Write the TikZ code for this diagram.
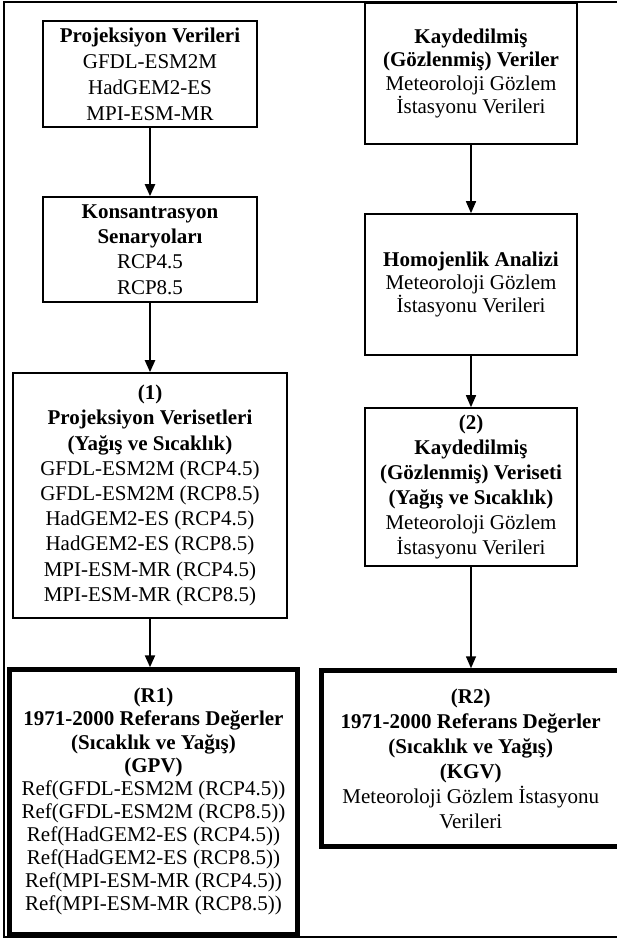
\documentclass[tikz,border=0pt]{standalone}
\usepackage{fontspec}
\setmainfont{Liberation Serif}
\usetikzlibrary{arrows.meta}
\begin{document}
\begin{tikzpicture}[x=1pt,y=-1pt,
  box/.style={draw=black, line width=1.6pt, align=center, inner sep=0pt, fill=white},
  thickbox/.style={box, line width=4.5pt},
  fs/.style={font=\fontsize{21}{#1}\selectfont},
  arrL/.style={-{Triangle[length=12pt,width=10pt]}, line width=2.2pt},
  arrR/.style={-{Triangle[length=12pt,width=10pt]}, line width=1.5pt},
  frame/.style={line width=2pt}]
\useasboundingbox (0,0) rectangle (617,939);
\clip (0,0) rectangle (617,939);
\fill[white] (0,0) rectangle (617,939);
\draw[frame] (640,2) -- (4,2) -- (4,937) -- (640,937);

% left column
\node[box, fs=26, minimum width=214pt, minimum height=106pt] (A) at (150,74)
  {\textbf{Projeksiyon Verileri}\\GFDL-ESM2M\\HadGEM2-ES\\MPI-ESM-MR};
\node[box, fs=25.3, minimum width=214pt, minimum height=105pt] (B) at (150,249.5)
  {\textbf{Konsantrasyon}\\\textbf{Senaryoları}\\RCP4.5\\RCP8.5};
\node[box, fs=25.2, minimum width=274pt, minimum height=245pt] (C) at (150,495.5)
  {\textbf{(1)}\\\textbf{Projeksiyon Verisetleri}\\\textbf{(Yağış ve Sıcaklık)}\\
   GFDL-ESM2M (RCP4.5)\\GFDL-ESM2M (RCP8.5)\\HadGEM2-ES (RCP4.5)\\
   HadGEM2-ES (RCP8.5)\\MPI-ESM-MR (RCP4.5)\\MPI-ESM-MR (RCP8.5)};
\node[thickbox, fs=23.1, minimum width=288pt, minimum height=264.5pt] (D) at (153.5,801.75)
  {\textbf{(R1)}\\\textbf{1971-2000 Referans Değerler}\\\textbf{(Sıcaklık ve Yağış)}\\\textbf{(GPV)}\\
   Ref(GFDL-ESM2M (RCP4.5))\\Ref(GFDL-ESM2M (RCP8.5))\\Ref(HadGEM2-ES (RCP4.5))\\
   Ref(HadGEM2-ES (RCP8.5))\\Ref(MPI-ESM-MR (RCP4.5))\\Ref(MPI-ESM-MR (RCP8.5))};

% right column
\node[box, fs=23.3, minimum width=212pt, minimum height=141pt] (E) at (471,73.5)
  {\textbf{Kaydedilmiş}\\\textbf{(Gözlenmiş) Veriler}\\Meteoroloji Gözlem\\İstasyonu Verileri};
\node[box, fs=23.3, minimum width=212pt, minimum height=141pt] (F) at (471,284.5)
  {\textbf{Homojenlik Analizi}\\Meteoroloji Gözlem\\İstasyonu Verileri};
\node[box, fs=25, minimum width=212pt, minimum height=158pt] (G) at (471,487)
  {\textbf{(2)}\\\textbf{Kaydedilmiş}\\\textbf{(Gözlenmiş) Veriseti}\\\textbf{(Yağış ve Sıcaklık)}\\
   Meteoroloji Gözlem\\İstasyonu Verileri};
\node[thickbox, fs=25, minimum width=298.5pt, minimum height=176pt] (H) at (470.75,758.5)
  {\textbf{(R2)}\\\textbf{1971-2000 Referans Değerler}\\\textbf{(Sıcaklık ve Yağış)}\\\textbf{(KGV)}\\
   Meteoroloji Gözlem İstasyonu\\Verileri};

% connectors
\draw[arrL] (A.south) -- (B.north);
\draw[arrL] (B.south) -- (C.north);
\draw[arrL] (C.south) -- (C.south |- D.north);
\draw[arrR] (E.south) -- (F.north);
\draw[arrR] (F.south) -- (G.north);
\draw[arrR] (G.south) -- (G.south |- H.north);
\end{tikzpicture}
\end{document}
